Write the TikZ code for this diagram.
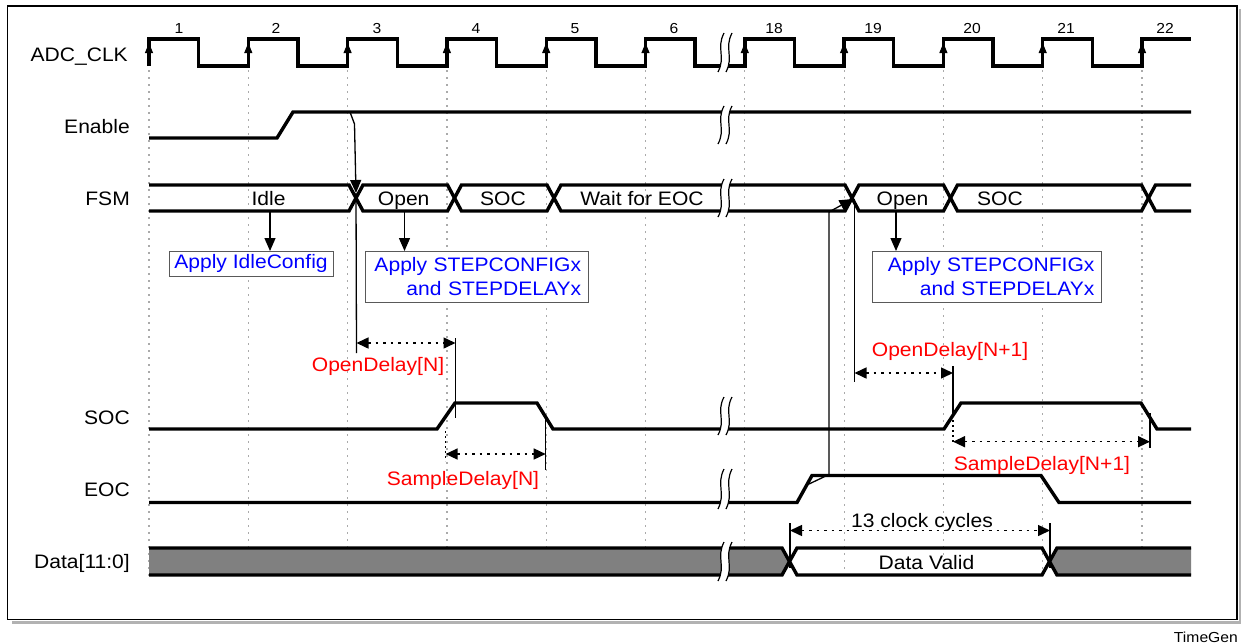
\documentclass[tikz,border=0pt]{standalone}
\usepackage{fontspec}
\setmainfont{Liberation Sans}[FakeStretch=1.08]
\usetikzlibrary{arrows.meta}
\definecolor{busgray}{RGB}{128,128,128}
\definecolor{gridgray}{RGB}{170,170,170}
\newcommand\brkmk[3]{%
  \fill[white] ({#1-1},#2) .. controls ({#1-9},{#2+0.4*(#3-#2)}) and ({#1+1},{#2+0.6*(#3-#2)}) .. ({#1-7},#3) -- ({#1+1},#3) .. controls ({#1+9},{#2+0.6*(#3-#2)}) and ({#1-1},{#2+0.4*(#3-#2)}) .. ({#1+7},#2) -- cycle;
  \draw[line width=1.2pt] ({#1-1},#2) .. controls ({#1-9},{#2+0.4*(#3-#2)}) and ({#1+1},{#2+0.6*(#3-#2)}) .. ({#1-7},#3);
  \draw[line width=1.2pt] ({#1+7},#2) .. controls ({#1-1},{#2+0.4*(#3-#2)}) and ({#1+9},{#2+0.6*(#3-#2)}) .. ({#1+1},#3);
}
\begin{document}
\begin{tikzpicture}[x=1pt,y=-1pt,
  every node/.style={font=\fontsize{19.5}{24}\selectfont, inner sep=0pt},
  sig/.style={line width=3.4pt, line join=miter},
  grid/.style={draw=gridgray, line width=1.2pt, dash pattern=on 2pt off 5pt},
  ann/.style={line width=1.3pt},
  annarr/.style={line width=1.3pt, -{Triangle[length=13pt,width=11pt]}},
  dimarr/.style={line width=1.5pt, dash pattern=on 2.5pt off 5pt, {Triangle[length=12pt,width=11pt]}-{Triangle[length=12pt,width=11pt]}},
  dotv/.style={line width=1.2pt, dash pattern=on 2pt off 3pt},
  box/.style={draw=black!65, line width=1pt, fill=white, text=blue, inner sep=0pt},
  lbl/.style={anchor=base east},
  num/.style={anchor=base, font=\fontsize{14.5}{17}\selectfont},
  st/.style={anchor=base},
  redtxt/.style={anchor=base, text=red}]
\useasboundingbox (0,0) rectangle (1243,643);
\fill[white] (0,0) rectangle (1243,643);
% frame with shadow
\draw[black!30, line width=2.5pt] (12,622.5) -- (1240,622.5) -- (1240,9);
\draw[line width=1.3pt] (7.5,6) rectangle (1237,619.5);
% grid lines
\foreach \x in {149,248.3,347.6,446.9,546.2,645.5,744.8,844.1,943.4,1042.7,1142}
  \draw[grid] (\x,70) -- (\x,577);
% signal labels
\node[lbl] (lclk) at (128,61.7) {ADC\_CLK};
\node[lbl] (len) at (130,133.3) {Enable};
\node[lbl] (lfsm) at (130,205) {FSM};
\node[lbl] (lsoc) at (130,424) {SOC};
\node[lbl] (leoc) at (130,496.7) {EOC};
\node[lbl] (ldata) at (130,568.5) {Data[11:0]};
% clock numbers
\foreach \x/\t [count=\i] in {179/1,276/2,377/3,476/4,575/5,674/6,774/18,873/19,972/20,1066/21,1165/22}
  \node[num] (n\i) at (\x,33.3) {\t};
% clock
\draw[sig] (149,66) -- (149,39) -- (198.65,39) -- (198.65,66) -- (248.3,66) -- (248.3,39) -- (297.95,39) -- (297.95,66) -- (347.6,66) -- (347.6,39) -- (397.25,39) -- (397.25,66) -- (446.9,66) -- (446.9,39) -- (496.55,39) -- (496.55,66) -- (546.2,66) -- (546.2,39) -- (595.85,39) -- (595.85,66) -- (645.5,66) -- (645.5,39) -- (695.15,39) -- (695.15,66) -- (744.8,66) -- (744.8,39) -- (794.45,39) -- (794.45,66) -- (844.1,66) -- (844.1,39) -- (893.75,39) -- (893.75,66) -- (943.4,66) -- (943.4,39) -- (993.05,39) -- (993.05,66) -- (1042.7,66) -- (1042.7,39) -- (1092.35,39) -- (1092.35,66) -- (1142,66) -- (1142,39) -- (1191,39);
\foreach \x in {149,248.3,347.6,446.9,546.2,645.5,744.8,844.1,943.4,1042.7,1142}
  \draw[line width=1pt, -{Triangle[length=10pt,width=8pt]}] (\x,58) -- (\x,43);
% enable
\draw[sig] (149,138) -- (277,138) -- (293,112) -- (1191,112);
% FSM bus
\draw[sig] (149,185) -- (349,185) -- (363,211) -- (447.5,211) -- (461.5,185) -- (547,185) -- (561,211) -- (845,211) -- (859,185) -- (943.5,185) -- (957.5,211) -- (1141.5,211) -- (1155.5,185) -- (1191,185);
\draw[sig] (149,211) -- (349,211) -- (363,185) -- (447.5,185) -- (461.5,211) -- (547,211) -- (561,185) -- (845,185) -- (859,211) -- (943.5,211) -- (957.5,185) -- (1141.5,185) -- (1155.5,211) -- (1191,211);
\node[st] (sIdle) at (268.5,205) {Idle};
\node[st] (sOpen1) at (403.7,205) {Open};
\node[st] (sSoc1) at (503,205) {SOC};
\node[st] (sWait) at (642,205) {Wait for EOC};
\node[st] (sOpen2) at (902.5,205) {Open};
\node[st] (sSoc2) at (1000,205) {SOC};
% SOC
\draw[sig] (149,429) -- (437,429) -- (455,403) -- (537,403) -- (553,429) -- (944,429) -- (961,403) -- (1141,403) -- (1157,429) -- (1191,429);
% EOC
\draw[sig] (149,502.5) -- (797,502.5) -- (812,475.5) -- (1041,475.5) -- (1059,502.5) -- (1191,502.5);
% Data bus
\fill[busgray] (149,548) -- (782,548) -- (789.5,561.5) -- (782,575) -- (149,575) -- cycle;
\fill[busgray] (1191,548) -- (1057,548) -- (1049.5,561.5) -- (1057,575) -- (1191,575) -- cycle;
\draw[sig] (149,548) -- (782,548) -- (797,575) -- (1042,575) -- (1057,548) -- (1191,548);
\draw[sig] (149,575) -- (782,575) -- (797,548) -- (1042,548) -- (1057,575) -- (1191,575);
\node[st] (dvalid) at (926.5,569) {Data Valid};
% breaks
\brkmk{725}{33}{72}
\brkmk{725}{106}{144}
\brkmk{725}{179}{217}
\brkmk{725}{397}{435}
\brkmk{725}{469}{509}
\brkmk{725}{542}{581}
% boxes
\node[box, minimum width=164pt, minimum height=25pt] (idlebox) at (251,263.5) {Apply IdleConfig};
\node[box, anchor=north west, minimum height=51pt, text width=209pt, align=right, inner xsep=7pt] (stepbox1) at (364.6,251) {Apply STEPCONFIGx\\and STEPDELAYx};
\node[box, anchor=north west, minimum height=51pt, text width=215pt, align=right, inner xsep=7pt] (stepbox2) at (872,251) {Apply STEPCONFIGx\\and STEPDELAYx};
\draw[annarr] (270,211) -- (270,251);
\draw[annarr] (404.5,211) -- (404.5,251);
\draw[annarr] (896,211) -- (896,251);
% Enable -> FSM
\coordinate (enA) at (350,112);
\coordinate (xA) at (356,193);
\draw[annarr] (enA) -- (354.5,124) -- (xA);
\draw[ann] (xA) -- (356.5,353);
% OpenDelay[N]
\draw[dimarr] (356.5,343) -- (455.5,343);
\draw[ann] (455.5,338) -- (455.5,418);
\node[redtxt] (od1) at (378,371.7) {OpenDelay[N]};
% SampleDelay[N]
\draw[dotv] (445.6,431) -- (445.6,461);
\draw[dimarr] (445.6,454) -- (545.7,454);
\draw[ann] (545.7,417) -- (545.7,470);
\node[redtxt] (sd1) at (463,485.7) {SampleDelay[N]};
% EOC -> FSM
\coordinate (eocA) at (809,484);
\coordinate (xB) at (852.5,199);
\draw[annarr] (eocA) -- (829,474.5) -- (829,212) -- (xB);
\draw[ann] (854.5,199) -- (854.5,382);
% OpenDelay[N+1]
\draw[dimarr] (854.5,373) -- (953,373);
\draw[ann] (953,366) -- (953,414);
\draw[dotv] (953,420) -- (953,442);
\node[redtxt] (od2) at (950,356.7) {OpenDelay[N+1]};
% SampleDelay[N+1]
\draw[dimarr] (953,441.7) -- (1150,441.7);
\draw[ann] (1150,413) -- (1150,448);
\node[redtxt] (sd2) at (1042,470.7) {SampleDelay[N+1]};
% 13 clock cycles
\draw[ann] (790,523) -- (790,568);
\draw[ann] (1050,523) -- (1050,568);
\draw[dimarr] (790,530.5) -- (1050,530.5);
\node[st] (cyc) at (922,527) {13 clock cycles};
% footer
\node[anchor=base east, font=\fontsize{14.5}{17}\selectfont] (tg) at (1238,642) {TimeGen};
\end{tikzpicture}
\end{document}
